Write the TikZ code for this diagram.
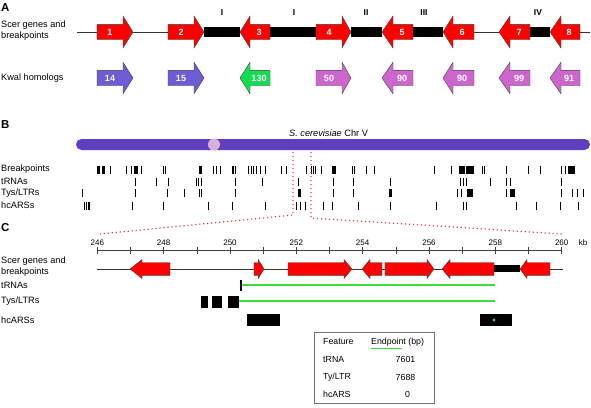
\documentclass[tikz,border=0pt]{standalone}
\usepackage{fontspec}
\setmainfont{Liberation Sans}
\definecolor{kblue}{RGB}{108,92,214}
\definecolor{kgreen}{RGB}{20,222,80}
\definecolor{korch}{RGB}{204,102,204}
\definecolor{chrom}{RGB}{96,62,192}
\definecolor{cen}{RGB}{216,176,216}
\definecolor{lgreen}{RGB}{60,222,60}
\definecolor{dotred}{RGB}{228,60,60}
\tikzset{
  lbl/.style={font=\fontsize{9.2}{10.8}\selectfont, anchor=west, inner sep=0pt, align=left},
  numlbl/.style={font=\fontsize{9}{10}\selectfont\bfseries, text=white, inner sep=0pt},
  roman/.style={font=\fontsize{8.5}{9}\selectfont\bfseries, inner sep=0pt},
  panel/.style={font=\fontsize{11.5}{13}\selectfont\bfseries, anchor=west, inner sep=0pt},
  axlbl/.style={font=\fontsize{8}{9}\selectfont, inner sep=0pt},
  tbl/.style={font=\fontsize{8.8}{10}\selectfont, inner sep=0pt},
  redarr/.style={fill=red, draw=black!75, line width=0.4pt},
  bluearr/.style={fill=kblue, draw=black!75, line width=0.4pt},
  greenarr/.style={fill=kgreen, draw=black!75, line width=0.4pt},
  orcharr/.style={fill=korch, draw=black!75, line width=0.4pt},
  backbone/.style={draw=black!80, line width=0.6pt},
  tickmark/.style={draw=black, line width=0.8pt},
  zoomline/.style={draw=dotred, line width=1.2pt, dash pattern=on 1.2pt off 2.8pt},
  greenline/.style={draw=lgreen, line width=1.6pt},
}
% #1 body end, #2 head base, #3 tip, #4 y centre, #5 body half, #6 head half, #7 style
\newcommand{\genearrow}[7]{%
  \path[#7] (#1,{#4-#5}) -- (#2,{#4-#5}) -- (#2,{#4-#6}) -- (#3,#4) -- (#2,{#4+#6}) -- (#2,{#4+#5}) -- (#1,{#4+#5}) -- cycle;}
\begin{document}
\begin{tikzpicture}[x=1pt,y=-1pt]
\useasboundingbox (0,0) rectangle (591,407);

%%%%%%%%%%%%%%%% Panel A
\node[panel] (pA) at (1,8) {A};
\node[lbl] (lA1) at (1,30.5) {Scer genes and\\breakpoints};
\node[lbl] (lA2) at (1,78) {Kwal homologs};

\coordinate (aL) at (77,32);
\coordinate (aR) at (590,32);
\draw[backbone] (aL) -- (aR);
\fill (204,27) rectangle (240,37);
\fill (270,27) rectangle (316,37);
\fill (351,27) rectangle (382,37);
\fill (413,27) rectangle (443,37);
\fill (530,27) rectangle (550,37);

\node[roman] (r1) at (222,13) {I};
\node[roman] (r2) at (294,13) {I};
\node[roman] (r3) at (366,13) {II};
\node[roman] (r4) at (424,13) {III};
\node[roman] (r5) at (538,13) {IV};

\genearrow{97}{123}{133}{32}{7.7}{16}{redarr}
\genearrow{168}{194}{204}{32}{7.7}{16}{redarr}
\genearrow{270}{250}{240}{32}{7.7}{16}{redarr}
\genearrow{316}{342}{351}{32}{7.7}{16}{redarr}
\genearrow{413}{393}{382}{32}{7.7}{16}{redarr}
\genearrow{474}{453}{443}{32}{7.7}{16}{redarr}
\genearrow{530}{510}{499}{32}{7.7}{16}{redarr}
\genearrow{580}{561}{550}{32}{7.7}{16}{redarr}
\node[numlbl] (g1) at (110,32) {1};
\node[numlbl] (g2) at (181,32) {2};
\node[numlbl] (g3) at (259,32) {3};
\node[numlbl] (g4) at (329,32) {4};
\node[numlbl] (g5) at (402,32) {5};
\node[numlbl] (g6) at (462,32) {6};
\node[numlbl] (g7) at (519,32) {7};
\node[numlbl] (g8) at (569,32) {8};

\genearrow{97}{123}{133}{78}{7.7}{15.8}{bluearr}
\genearrow{168}{194}{204}{78}{7.7}{15.8}{bluearr}
\genearrow{270}{250}{240}{78}{7.7}{15.8}{greenarr}
\genearrow{316}{342}{351}{78}{7.7}{15.8}{orcharr}
\genearrow{413}{393}{382}{78}{7.7}{15.8}{orcharr}
\genearrow{474}{453}{443}{78}{7.7}{15.8}{orcharr}
\genearrow{530}{510}{499}{78}{7.7}{15.8}{orcharr}
\genearrow{580}{561}{550}{78}{7.7}{15.8}{orcharr}
\node[numlbl] (k1) at (110,78) {14};
\node[numlbl] (k2) at (181,78) {15};
\node[numlbl] (k3) at (259,78) {130};
\node[numlbl] (k4) at (329,78) {50};
\node[numlbl] (k5) at (402,78) {90};
\node[numlbl] (k6) at (462,78) {90};
\node[numlbl] (k7) at (519,78) {99};
\node[numlbl] (k8) at (569,78) {91};

%%%%%%%%%%%%%%%% Panel B
\node[panel] (pB) at (1,125) {B};
\node[lbl] (chrname) at (289,133) {\textit{S. cerevisiae} Chr V};
\fill[chrom, rounded corners=5.5pt] (76,139) rectangle (590,150);
\fill[cen] (214,144.5) circle (6);

\node[lbl] (lB1) at (1,169) {Breakpoints};
\node[lbl] (lB2) at (1,181) {tRNAs};
\node[lbl] (lB3) at (1,193) {Tys/LTRs};
\node[lbl] (lB4) at (1,205) {hcARSs};

% breakpoints
\foreach \x in {110,126,131,141.7,163.3,165.7,213.3,216.7,220,248.3,251,253.3,256.7,260,265,281,286.7,306.7,311,313.3,315,321.7,352.5,354.5,366.7,374.3,434.3,451.7,482.5,484.5,506.7,528.3,540,561.7,565}
  \draw[tickmark] (\x,166) -- (\x,174);
\foreach \a/\b in {96.5/100.3,101.5/105,134.2/137.8,199/202.3,232.2/233.8,234.6/236,331.8/335.8,458.5/465,466.3/473.5,567.8/575}
  \fill (\a,166) rectangle (\b,174);
% tRNAs
\foreach \x in {135,156.3,168,196,198.6,201.7,235.8,262.8,298,333,353.3,390,460,463.3,466.7,490.5,506.7,510.5,561.7}
  \draw[tickmark] (\x,177.5) -- (\x,185.5);
% Tys/LTRs
\foreach \x in {82.3,135,167.7,184.3,199,201.3,235.3,333,353.3,457.8,461.2,506.7,561.7,572.3,577.8,583.3}
  \draw[tickmark] (\x,189) -- (\x,197);
\foreach \a/\b in {298.2/301.2,389/391.8,466.8/472.5,510/515}
  \fill (\a,189) rectangle (\b,197);
% hcARSs
\foreach \x in {84.5,86.3,88.1,89.8,132.8,163,208.3,232.3,265.8,296,300,305,323.3,332,358,390,436,463.3,466.7,516.7,536,560,578.3}
  \draw[tickmark] (\x,201.5) -- (\x,209.5);

% zoom lines
\coordinate (zl0) at (293,152);
\coordinate (zl1) at (293,215);
\coordinate (zl2) at (100,234);
\coordinate (zr0) at (311,152);
\coordinate (zr1) at (311,218);
\coordinate (zr2) at (562,234);
\draw[zoomline] (zl0) -- (zl1) -- (zl2);
\draw[zoomline] (zr0) -- (zr1) -- (zr2);

%%%%%%%%%%%%%%%% Panel C
\node[panel] (pC) at (1,228) {C};
\coordinate (ax0) at (97.3,250.5);
\coordinate (ax1) at (561.7,250.5);
\draw[draw=black!75, line width=0.6pt] (ax0) -- (ax1);
\foreach \k in {246,...,260}
  \draw[draw=black!75, line width=0.6pt] ({97.3+33.17*(\k-246)},246.8) -- ({97.3+33.17*(\k-246)},253.8);
\foreach \k in {246,248,...,260}
  \node[axlbl] (ax\k) at ({97.3+33.17*(\k-246)},242.5) {\k};
\node[axlbl] (kb) at (583,242.5) {kb};

\node[lbl] (lC1) at (1,267) {Scer genes and\\breakpoints};
\node[lbl] (lC2) at (1,285) {tRNAs};
\node[lbl] (lC3) at (1,301.5) {Tys/LTRs};
\node[lbl] (lC4) at (1,320) {hcARSs};

\coordinate (cL) at (97,269);
\coordinate (cR) at (563,269);
\draw[backbone] (cL) -- (cR);
\fill (494,264.5) rectangle (520,272);
\genearrow{170}{142}{130}{269}{6.3}{9.5}{redarr}
\genearrow{254}{258.3}{264}{269}{6.3}{9.5}{redarr}
\genearrow{288}{344}{352}{269}{6.3}{9.5}{redarr}
\genearrow{382}{370}{362}{269}{6.3}{9.5}{redarr}
\genearrow{385}{427}{434}{269}{6.3}{9.5}{redarr}
\genearrow{494}{450}{442}{269}{6.3}{9.5}{redarr}
\genearrow{550}{527}{520}{269}{6.3}{9.5}{redarr}

% tRNA track
\coordinate (trnaA) at (241,285);
\coordinate (trnaB) at (494.5,285);
\draw[greenline] (trnaA) -- (trnaB);
\fill (240,279.5) rectangle (242.3,290.5);
% Ty track
\coordinate (tyA) at (239,301);
\coordinate (tyB) at (494.5,301);
\draw[greenline] (tyA) -- (tyB);
\fill (200.7,295.5) rectangle (207.5,308);
\fill (212,295.5) rectangle (222,308);
\fill (228,295.5) rectangle (239.3,308);
% hcARS track
\fill (247,313.5) rectangle (280,326);
\fill (480,314) rectangle (512,326);
\fill[lgreen] (494,320) circle (1.6);

% table
\draw[draw=black!55, line width=0.6pt] (314,332) rectangle (434,403);
\node[tbl, anchor=west] (hF) at (323,342) {Feature};
\node[tbl, anchor=west] (hE) at (371,342) {Endpoint (bp)};
\draw[draw=lgreen, line width=1pt] (371,348) -- (402,348);
\node[tbl, anchor=west] (f1) at (323,359.5) {tRNA};
\node[tbl, anchor=west] (f2) at (323,377) {Ty/LTR};
\node[tbl, anchor=west] (f3) at (323,394) {hcARS};
\node[tbl] (v1) at (405.5,359.5) {7601};
\node[tbl] (v2) at (405.5,377) {7688};
\node[tbl] (v3) at (407.5,394) {0};
\end{tikzpicture}
\end{document}
